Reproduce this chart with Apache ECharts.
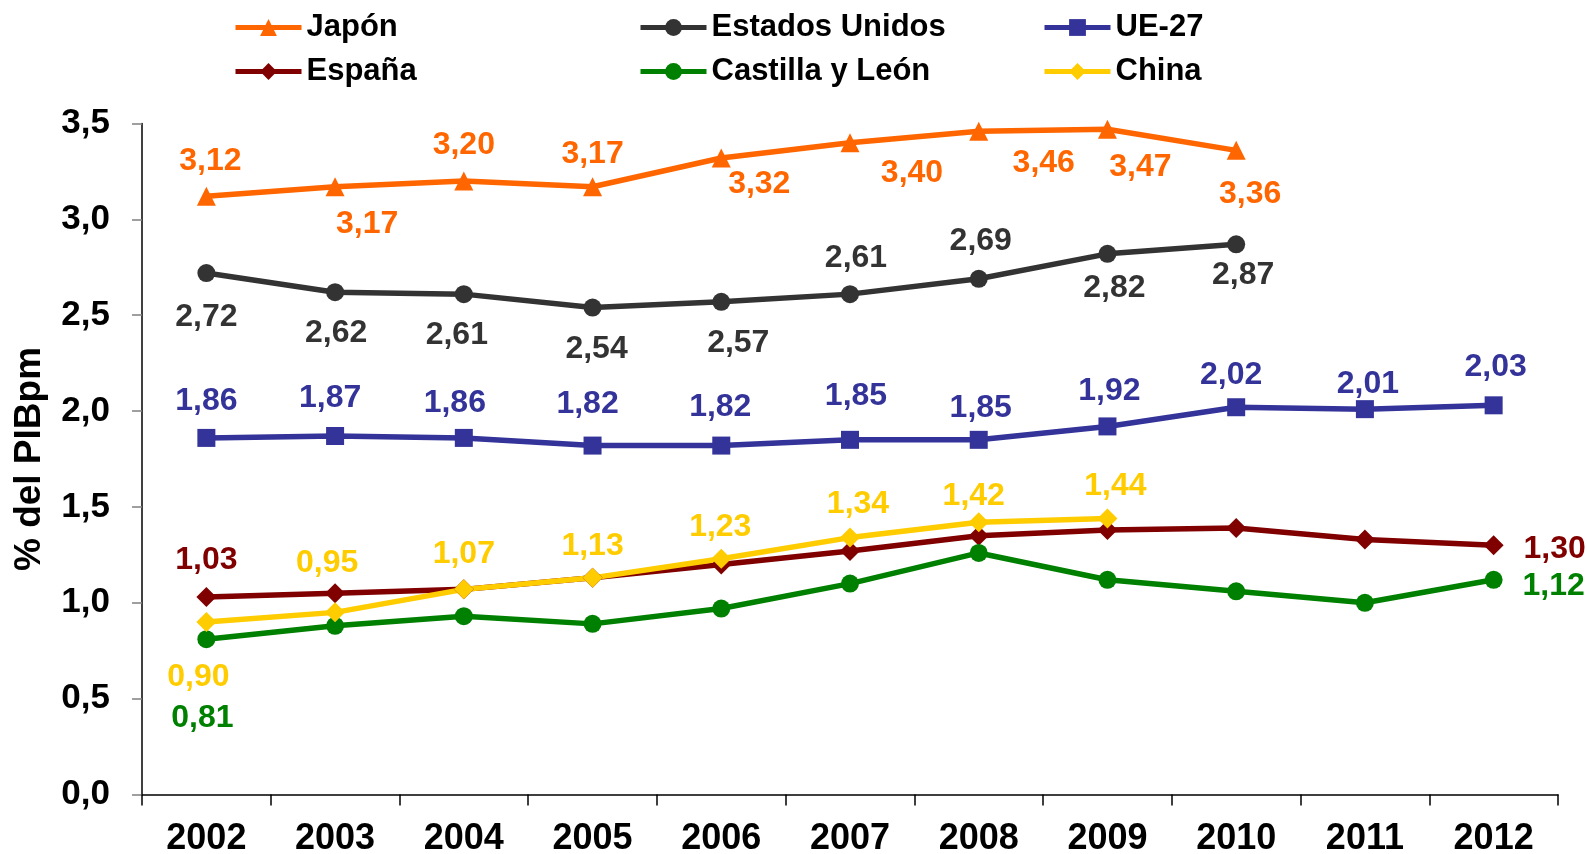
<!DOCTYPE html>
<html>
<head>
<meta charset="utf-8">
<script src="https://cdn.jsdelivr.net/npm/echarts@6/dist/echarts.min.js"></script>
<style>
html,body{margin:0;padding:0;background:#fff;}
#chart{width:1587px;height:854px;}
</style>
</head>
<body>
<div id="chart"></div>
<script>
// ---- Data ----
const years = ['2002','2003','2004','2005','2006','2007','2008','2009','2010','2011','2012'];
const japon  = [3.12, 3.17, 3.20, 3.17, 3.32, 3.40, 3.46, 3.47, 3.36, null, null];
const eeuu   = [2.72, 2.62, 2.61, 2.54, 2.57, 2.61, 2.69, 2.82, 2.87, null, null];
const ue27   = [1.86, 1.87, 1.86, 1.82, 1.82, 1.85, 1.85, 1.92, 2.02, 2.01, 2.03];
const espana = [1.03, 1.05, 1.07, 1.13, 1.20, 1.27, 1.35, 1.38, 1.39, 1.33, 1.30];
const cyl    = [0.81, 0.88, 0.93, 0.89, 0.97, 1.10, 1.26, 1.12, 1.06, 1.00, 1.12];
const china  = [0.90, 0.95, 1.07, 1.13, 1.23, 1.34, 1.42, 1.44, null, null, null];
const yTickLabels = ['0,0','0,5','1,0','1,5','2,0','2,5','3,0','3,5'];

// ---- Styling: label placement offsets (pixels relative to each point) ----
const labelOffsets = {
  japon:  {0:[4,-37],1:[32,35],2:[0,-38],3:[0,-35],4:[38,24],5:[62,29],6:[65,30],7:[33,36],8:[14,42]},
  eeuu:   {0:[0,42],1:[1,39],2:[-7,39],3:[4,40],4:[17,39],5:[6,-38],6:[2,-40],7:[7,32],8:[7,29]},
  ue27:   {0:[0,-39],1:[-5,-40],2:[-9,-37],3:[-5,-43],4:[-1,-40],5:[6,-46],6:[2,-34],7:[2,-37],8:[-5,-34],9:[3,-27],10:[2,-40]},
  espana: {0:[0,-39],10:[61,2]},
  cyl:    {0:[-4,77],10:[60,4]},
  china:  {0:[-8,53],1:[-8,-51],2:[0,-37],3:[0,-34],4:[-1,-34],5:[8,-35],6:[-5,-28],7:[8,-34]}
};
const LABEL_DY = 2;

const FONT = '"Liberation Sans", Arial, sans-serif';
const LINE_W = 5.5;

function fmt(v){ return v.toFixed(2).replace('.', ','); }

function buildData(values, offsets, color){
  return values.map((v, i) => {
    if (v === null) return null;
    const off = offsets[i];
    if (!off) return { value: v, label: { show: false } };
    return {
      value: v,
      label: {
        show: true, position: 'inside', offset: [off[0], off[1] + LABEL_DY],
        formatter: p => fmt(p.value),
        color: color, fontSize: 32, fontWeight: 'bold', fontFamily: FONT
      }
    };
  });
}

function mkSeries(name, values, key, color, symbol, size){
  return {
    name: name, type: 'line', data: buildData(values, labelOffsets[key], color),
    symbol: symbol, symbolSize: size,
    lineStyle: { color: color, width: LINE_W },
    itemStyle: { color: color },
    connectNulls: false, animation: false,
    emphasis: { disabled: true }
  };
}

const series = [
  mkSeries('Japón', japon, 'japon', '#FF6600', 'triangle', 19),
  mkSeries('Estados Unidos', eeuu, 'eeuu', '#333333', 'circle', 18),
  mkSeries('UE-27', ue27, 'ue27', '#333399', 'rect', 18),
  mkSeries('España', espana, 'espana', '#800000', 'diamond', 20),
  mkSeries('Castilla y León', cyl, 'cyl', '#008000', 'circle', 18),
  mkSeries('China', china, 'china', '#FFCC00', 'diamond', 20)
];

function mkLegend(left, names){
  return {
    orient: 'vertical', left: left, top: 12, padding: 0,
    itemWidth: 66, itemHeight: 21, itemGap: 13,
    data: names,
    lineStyle: { width: 5 },
    textStyle: { fontSize: 31, fontWeight: 'bold', color: '#000', fontFamily: FONT },
    selectedMode: false
  };
}

const chart = echarts.init(document.getElementById('chart'), null, { renderer: 'canvas' });
chart.setOption({
  backgroundColor: '#ffffff',
  animation: false,
  legend: [
    mkLegend(233, ['Japón', 'España']),
    mkLegend(638, ['Estados Unidos', 'Castilla y León']),
    mkLegend(1042, ['UE-27', 'China'])
  ],
  grid: { left: 142, right: 29, top: 123.5, bottom: 59.5, containLabel: false, outerBoundsMode: 'none' },
  xAxis: {
    type: 'category', data: years, boundaryGap: true,
    axisLine: { lineStyle: { color: '#000', width: 1.5 } },
    axisTick: { show: true, alignWithLabel: false, length: 11, lineStyle: { color: '#000', width: 1.5 } },
    axisLabel: { margin: 27, fontSize: 36, fontWeight: 'bold', color: '#000', fontFamily: FONT },
    splitLine: { show: false }
  },
  yAxis: {
    type: 'value', min: 0, max: 3.5, interval: 0.5,
    name: '% del PIBpm', nameLocation: 'middle', nameGap: 94, nameRotate: 90,
    nameTextStyle: { fontSize: 37, fontWeight: 'bold', color: '#000', fontFamily: FONT },
    axisLine: { show: true, lineStyle: { color: '#000', width: 1.5 } },
    axisTick: { show: true, length: 10, lineStyle: { color: '#808080', width: 1.5 } },
    axisLabel: { margin: 32, fontSize: 35, fontWeight: 'bold', color: '#000', fontFamily: FONT,
      formatter: v => yTickLabels[Math.round(v / 0.5)] },
    splitLine: { show: false }
  },
  series: series
});
</script>
</body>
</html>
